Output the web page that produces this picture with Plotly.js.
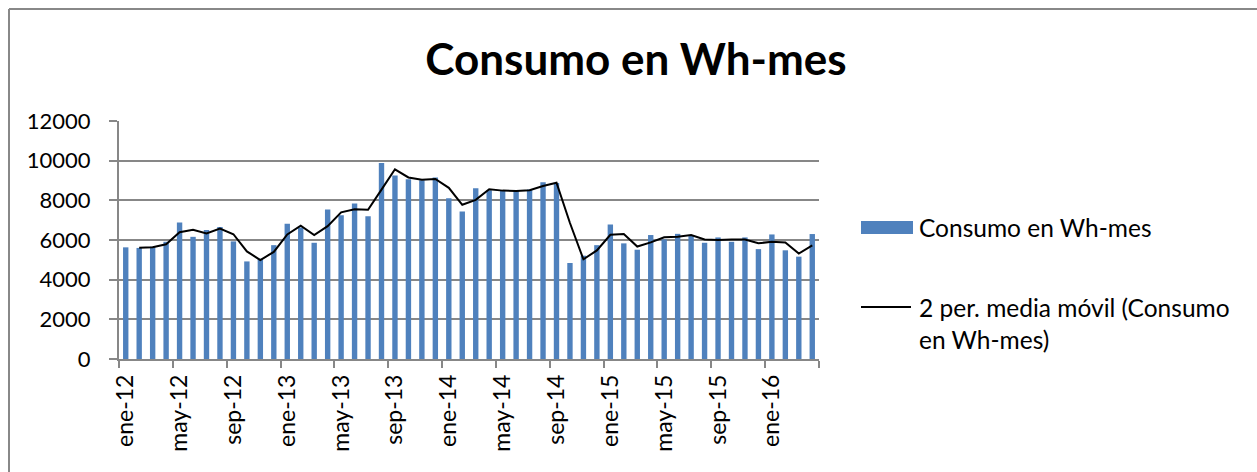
<!DOCTYPE html>
<html><head><meta charset="utf-8">
<script src="https://cdn.plot.ly/plotly-3.0.1.min.js"></script>
<style>html,body{margin:0;padding:0;background:#fff}#chart{width:1257px;height:472px}</style>
</head><body><div id="chart"></div>
<script>
// ---- data ----
const categories = [
  "ene-12","feb-12","mar-12","abr-12","may-12","jun-12","jul-12","ago-12","sep-12","oct-12","nov-12","dic-12",
  "ene-13","feb-13","mar-13","abr-13","may-13","jun-13","jul-13","ago-13","sep-13","oct-13","nov-13","dic-13",
  "ene-14","feb-14","mar-14","abr-14","may-14","jun-14","jul-14","ago-14","sep-14","oct-14","nov-14","dic-14",
  "ene-15","feb-15","mar-15","abr-15","may-15","jun-15","jul-15","ago-15","sep-15","oct-15","nov-15","dic-15",
  "ene-16","feb-16","mar-16","abr-16"
];
const consumo = [
  5630,5600,5660,5910,6880,6160,6500,6650,5930,4920,5060,5740,
  6820,6630,5860,7540,7250,7840,7200,9880,9250,9060,9010,9150,
  8110,7440,8610,8510,8470,8470,8540,8910,8870,4840,5210,5740,
  6780,5830,5510,6250,6030,6310,6200,5860,6130,5910,6130,5540,
  6280,5480,5160,6300
];
const mediaMovil = [
  null,5615,5630,5785,6395,6520,6330,6575,6290,5425,4990,5400,
  6280,6725,6245,6700,7395,7545,7520,8540,9565,9155,9035,9080,
  8630,7775,8025,8560,8490,8470,8505,8725,8890,6855,5025,5475,
  6260,6305,5670,5880,6140,6170,6255,6030,5995,6020,6020,5835,
  5910,5880,5320,5730
];
const tickLabels = ["ene-12","may-12","sep-12","ene-13","may-13","sep-13","ene-14","may-14","sep-14","ene-15","may-15","sep-15","ene-16"];
const yTicks = [0,2000,4000,6000,8000,10000,12000];
const titleText = "Consumo en Wh-mes";
const seriesName = "Consumo en Wh-mes";
const maName = "2 per. media móvil (Consumo en Wh-mes)";

// ---- layout helpers ----
const W = 1257, H = 472, ML = 119, MR = 438, MT = 121, MB = 113;
const PW = W - ML - MR, PH = H - MT - MB;
const px = v => (v - ML) / PW;
const py = v => (H - MB - v) / PH;
const grid = '#878787';
const FONT = 'Lato, "Open Sans", sans-serif';

const xIdx = categories.map((c, i) => i);
const tickIdx = tickLabels.map(l => categories.indexOf(l));
// tick marks sit on the boundaries between category groups
const boundaryIdx = tickIdx.map(i => i - 0.5).concat([categories.length - 0.5]);
const xRange = [-0.5, categories.length - 0.5];

const traces = [
  {type: 'bar', name: seriesName, x: xIdx, y: consumo, text: categories, textposition: 'none',
   marker: {color: '#4F81BD'}, showlegend: false, hoverinfo: 'text+y', xaxis: 'x', yaxis: 'y'},
  {type: 'scatter', mode: 'lines', name: maName, x: xIdx, y: mediaMovil,
   line: {color: '#000000', width: 2}, showlegend: false, connectgaps: false, xaxis: 'x2', yaxis: 'y'}
];

const layout = {
  width: W, height: H,
  margin: {l: ML, r: MR, t: MT, b: MB, pad: 0},
  paper_bgcolor: '#ffffff', plot_bgcolor: '#ffffff',
  font: {family: FONT, color: '#000000'},
  bargap: 0.6,
  title: {text: '<b>' + titleText + '</b>', font: {family: FONT, size: 44, color: '#000'},
          x: 636 / W, xanchor: 'center', xref: 'container',
          y: 1 - 60 / H, yanchor: 'middle', yref: 'container'},
  xaxis: {
    type: 'linear', range: xRange, fixedrange: true,
    tickmode: 'array', tickvals: boundaryIdx, showticklabels: false,
    ticks: 'outside', ticklen: 7, tickwidth: 2, tickcolor: grid,
    showgrid: false, zeroline: false,
    showline: true, linecolor: grid, linewidth: 2
  },
  xaxis2: {
    type: 'linear', range: xRange, fixedrange: true, overlaying: 'x', anchor: 'y', side: 'bottom',
    tickmode: 'array', tickvals: tickIdx, ticktext: tickLabels,
    ticks: '', tickangle: -90, tickfont: {family: FONT, size: 23, color: '#000'},
    ticklabelstandoff: 10,
    showgrid: false, zeroline: false, showline: false
  },
  yaxis: {
    range: [0, 12000], tickmode: 'array', tickvals: yTicks, tickformat: 'd', fixedrange: true,
    ticks: 'outside', ticklen: 8, tickwidth: 2, tickcolor: grid,
    tickfont: {family: FONT, size: 22, color: '#000'}, ticklabelstandoff: 14,
    showgrid: true, gridcolor: grid, gridwidth: 2,
    zeroline: false, showline: true, linecolor: grid, linewidth: 2
  },
  shapes: [
    // chart border (top and left edges visible)
    {type: 'line', xref: 'paper', yref: 'paper', x0: px(9), x1: px(1400), y0: py(9), y1: py(9),
     line: {color: '#888888', width: 2}},
    {type: 'line', xref: 'paper', yref: 'paper', x0: px(9), x1: px(9), y0: py(9), y1: py(600),
     line: {color: '#888888', width: 2}},
    // legend symbols
    {type: 'rect', xref: 'paper', yref: 'paper', x0: px(861), x1: px(913), y0: py(234), y1: py(221),
     fillcolor: '#4F81BD', line: {width: 0}},
    {type: 'line', xref: 'paper', yref: 'paper', x0: px(861), x1: px(911), y0: py(307), y1: py(307),
     line: {color: '#000000', width: 2}}
  ],
  annotations: [
    {xref: 'paper', yref: 'paper', x: px(917), y: py(227.5), xanchor: 'left', yanchor: 'middle',
     text: seriesName, showarrow: false, align: 'left', font: {family: FONT, size: 24.5, color: '#000'}},
    {xref: 'paper', yref: 'paper', x: px(917), y: py(323), xanchor: 'left', yanchor: 'middle',
     text: '2 per. media móvil (Consumo<br>en Wh-mes)', showarrow: false, align: 'left',
     font: {family: FONT, size: 24.5, color: '#000'}}
  ]
};

Plotly.newPlot('chart', traces, layout, {staticPlot: true, displayModeBar: false});
</script>
</body></html>
